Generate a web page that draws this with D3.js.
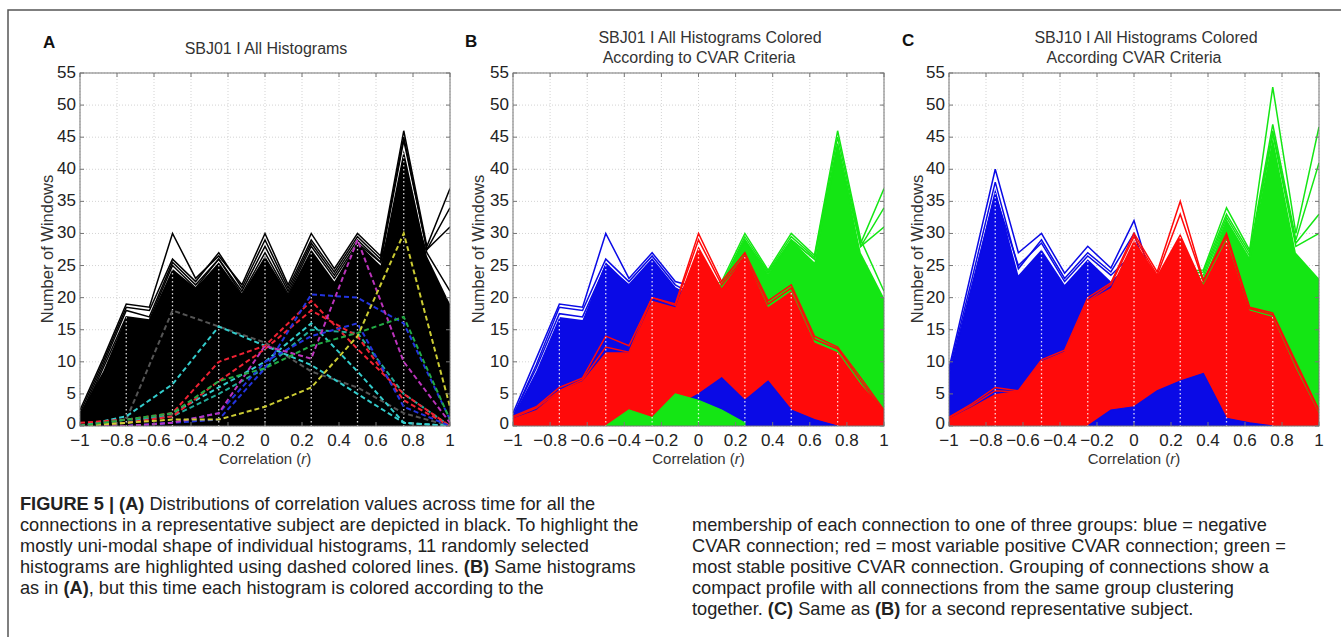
<!DOCTYPE html>
<html><head><meta charset="utf-8">
<script src="https://cdn.jsdelivr.net/npm/d3@7"></script>
<style>
body{margin:0;background:#fff;}
svg{display:block;font-family:"Liberation Sans",Helvetica,Arial,sans-serif;}
</style>
</head><body>
<svg id="c" width="1341" height="637"></svg>
<script>
// ---------- DATA ----------
const binX = [-1,-0.875,-0.75,-0.625,-0.5,-0.375,-0.25,-0.125,0,0.125,0.25,0.375,0.5,0.625,0.75,0.875,1];
const mainX = [-1,-0.75,-0.5,-0.25,0,0.25,0.5,0.75,1];
const xTicks = [-1,-0.8,-0.6,-0.4,-0.2,0,0.2,0.4,0.6,0.8,1];
const yTicks = [0,5,10,15,20,25,30,35,40,45,50,55];
const N = null;

// Panel A (SBJ01, all black)
const aBulk  = [2,8.5,17,16.5,24.5,21.5,25.5,20.5,26.5,20.5,27.5,22.5,28.5,25,43,26.5,19];
const aLines = [
  [2.5,10.5,19,18.5,30,23,26.5,22,30,22,30,24.5,30,26.5,46,28,37],
  [2,10,18.5,18,26,22.5,27,21.5,29,21.5,29,24,29.5,26,45,27.5,34],
  [1.5,9.5,18,17,25.5,22,26,21,28,21,28.5,23.5,29,25.5,44.5,27.5,31],
  [1,9,17,16.5,25,21.5,26,20.5,27,20.5,28,23,28.5,25.5,38,27,21]
];
const aDashColors = ["#555555","#33cccc","#33cccc","#22aa99","#ee2233","#ee2233","#2233dd","#2233dd","#bb33bb","#cccc33","#22aa44"];
const aDashValues = [
  [0,1,18,15.5,13,8.5,6,2,0],
  [0,1.5,6.5,15.5,12.5,9.5,5,0.5,0],
  [0,0.5,2,6,10,16,8.5,0.5,0],
  [0,1,1.5,5,9,15,14.5,5,0],
  [0.5,1,2,10,12.5,19.5,12,5,0],
  [0,0.5,1.5,7,12,18,14,4,0],
  [0,0,0.5,1,9,20.5,20,16,1],
  [0,0,0.5,2,10,14,16,3,0],
  [0,0,0.5,2,12.5,10.5,29,10,0.5],
  [0,0.5,1,1,3,6,14,30,3],
  [0,1,2,7,9,12.5,14.5,17,1]
];

// Panel B (SBJ01 coloured)
const bBlueBulk  = [1.5,8.5,17,16.5,25.5,22,26,21.5,20,8,3,1,0.5,0,0,0,0];
const bBlueLines = [
  [2,10.5,19,18.5,30,23,27,22.5,21.5,10,4,2,1,0,0,0,0],
  [1.5,9.5,18.5,18,26,22.5,26.5,22,20,9,3,1,0.5,0,0,0,0],
  [1.5,9,17.5,17,25,22,26,21.5,19.5,8,3,1,0.5,0,0,0,0]
];
const bRedBulk  = [1.2,2.5,5.5,7,11.5,11.5,19.5,18.5,28,21.5,26.5,18.5,21,13,11.5,6.5,2.5];
const bRedLines = [
  [1.5,3,6,7.5,14,12.5,20,19,30,22.5,27,19.5,22,14,12.3,7.5,2.5],
  [1.3,2.8,5.5,7.2,12.3,11.5,20,18.8,29,22,26.5,19,21.5,13.5,12,7,2.2]
];
const bGreenBulk  = [N,N,N,N,N,N,N,0,20,22,29,23.5,29,25.5,44,27,20];
const bGreenLines = [
  [N,N,N,N,N,N,N,0,21,22.5,30,24.3,30,26.6,46,29,21],
  [N,N,N,N,N,N,N,0,20.5,22,29.5,24,29.5,26.3,45,28.5,37],
  [N,N,N,N,N,N,N,0,20,22,29,23.8,29,26,44,28,34],
  [N,N,N,N,N,N,N,0,20,21.8,29,23.5,29,26,43,28,31]
];
const bBlueLowTop = [N,N,N,N,N,N,N,3,5,7.5,4,7,2.5,1,0,N,N];
const bBlueLowBot = [N,N,N,N,N,N,N,3,1.5,1.8,0,0,0,0,0,N,N];
const bGreenLowTop = [N,N,N,N,0,2.5,1.3,5,4,2.5,0.5,N,N,N,N,N,N];
const bGreenLowBot = [N,N,N,N,0,0,0,0,0,0,0,N,N,N,N,N,N];

// Panel C (SBJ10 coloured)
const cBlueBulk  = [8,22,37,23.5,27.5,22,26,22.5,26,18,10,5,2,0.5,0,0,0];
const cBlueLines = [
  [9,24.5,40,27,30,23.8,28,24.6,32,20,12,6,2,0.5,0,0,0],
  [8.5,23,38,24.5,29,23,27,24,30,19,11,5,2,0.5,0,0,0],
  [8,22,36,25,28.5,22.5,26.5,23.5,27,18,10,5,2,0.5,0,0,0]
];
const cRedBulk  = [1.2,3,5,5.5,10,11.5,19.5,21.5,29,23.5,30,22,29,18,17,9,2];
const cRedLines = [
  [1.4,3.5,6,5.5,10.3,11.8,20,22.3,30,24,35,22.7,30,18.5,17.6,10,2.5],
  [1.3,3.2,5.5,5.3,10,11.5,19.5,22,29.5,23.5,33,22.5,29.5,18.3,17.3,9.5,2.3]
];
const cGreenBulk  = [N,N,N,N,N,N,N,N,0,20,22,22.5,32,26,45,27,23];
const cGreenLines = [
  [N,N,N,N,N,N,N,N,0,21,24,24.3,34,27.4,52.8,30,46.6],
  [N,N,N,N,N,N,N,N,0,20.5,23.5,24,33,27,47,29,41],
  [N,N,N,N,N,N,N,N,0,20,23,23.5,32.5,26.5,46,28.5,33],
  [N,N,N,N,N,N,N,N,0,20,22.5,23,32,26,45.5,28,30]
];
const cBlueLowTop = [N,N,N,N,N,N,0,2.5,3,5.5,7,8.2,1.2,0.5,0,N,N];
const cBlueLowBot = [N,N,N,N,N,N,0,0,0,0,0,0,0,0,0,N,N];

// caption
const capLeft = [
  [["FIGURE 5 | (A)",1],[" Distributions of correlation values across time for all the",0]],
  [["connections in a representative subject are depicted in black. To highlight the",0]],
  [["mostly uni-modal shape of individual histograms, 11 randomly selected",0]],
  [["histograms are highlighted using dashed colored lines. ",0],["(B)",1],[" Same histograms",0]],
  [["as in ",0],["(A)",1],[", but this time each histogram is colored according to the",0]]
];
const capRight = [
  [["membership of each connection to one of three groups: blue = negative",0]],
  [["CVAR connection; red = most variable positive CVAR connection; green =",0]],
  [["most stable positive CVAR connection. Grouping of connections show a",0]],
  [["compact profile with all connections from the same group clustering",0]],
  [["together. ",0],["(C)",1],[" Same as ",0],["(B)",1],[" for a second representative subject.",0]]
];

// ---------- DRAW ----------
const svg = d3.select("#c");
const BLUE="#0a0ae6", RED="#ff0a0a", GREEN="#14e614", BLACK="#000";
const TOP=73, BOT=426;
const y = d3.scaleLinear().domain([0,55]).range([BOT,TOP]);

svg.append("path").attr("d","M8,637V10H1341").attr("fill","none").attr("stroke","#555").attr("stroke-width",1.5);

const panels = [
  {id:"A", left:80, right:450, letter:[43,48], titles:[["SBJ01 I All Histograms",266,54]], ylabX:47,
   layers:[{type:"area",top:aBulk,color:BLACK,clip:true},{type:"lines",data:aLines,color:BLACK}],
   dashed:true},
  {id:"B", left:513, right:884, letter:[465,47], titles:[["SBJ01 I All Histograms Colored",710,43],["According to CVAR Criteria",699,63]], ylabX:478,
   layers:[{type:"area",top:bBlueBulk,color:BLUE,clip:true},{type:"lines",data:bBlueLines,color:BLUE},
           {type:"area",top:bGreenBulk,color:GREEN},{type:"lines",data:bGreenLines,color:GREEN},
           {type:"area",top:bRedBulk,color:RED,clip:true},{type:"lines",data:bRedLines,color:RED},
           {type:"band",top:bBlueLowTop,bot:bBlueLowBot,color:BLUE},
           {type:"band",top:bGreenLowTop,bot:bGreenLowBot,color:GREEN}]},
  {id:"C", left:949, right:1319, letter:[902,46], titles:[["SBJ10 I All Histograms Colored",1146,43],["According CVAR Criteria",1134,63]], ylabX:917,
   layers:[{type:"area",top:cBlueBulk,color:BLUE,clip:true},{type:"lines",data:cBlueLines,color:BLUE},
           {type:"area",top:cGreenBulk,color:GREEN},{type:"lines",data:cGreenLines,color:GREEN},
           {type:"area",top:cRedBulk,color:RED,clip:true},{type:"lines",data:cRedLines,color:RED},
           {type:"band",top:cBlueLowTop,bot:cBlueLowBot,color:BLUE}]}
];

panels.forEach((p,pi)=>{
  const x = d3.scaleLinear().domain([-1,1]).range([p.left,p.right]);
  const g = svg.append("g");
  const defs = svg.append("defs");
  const clipId = "clip"+p.id;
  defs.append("clipPath").attr("id",clipId).append("rect")
    .attr("x",p.left).attr("y",TOP).attr("width",p.right-p.left).attr("height",BOT-TOP);

  // grid
  const grid = g.append("g").attr("stroke","#c8c8c8").attr("stroke-width",0.8).attr("stroke-dasharray","1,2");
  xTicks.forEach(t=>grid.append("line").attr("x1",x(t)).attr("x2",x(t)).attr("y1",TOP).attr("y2",BOT));
  yTicks.forEach(t=>grid.append("line").attr("x1",p.left).attr("x2",p.right).attr("y1",y(t)).attr("y2",y(t)));

  const plot = g.append("g").attr("clip-path",`url(#${clipId})`);
  const area = d3.area().defined(d=>d!=null).x((d,i)=>x(binX[i])).y0(BOT).y1(d=>y(d));
  const line = d3.line().defined(d=>d!=null).x((d,i)=>x(binX[i])).y(d=>y(d));
  const areaClip = "aclip"+p.id;
  const cp = defs.append("clipPath").attr("id",areaClip);

  p.layers.forEach(L=>{
    if(L.type==="area"){
      plot.append("path").attr("d",area(L.top)).attr("fill",L.color);
      if(L.clip) cp.append("path").attr("d",area(L.top));
    } else if(L.type==="lines"){
      L.data.forEach(v=>plot.append("path").attr("d",line(v)).attr("fill","none")
        .attr("stroke",L.color).attr("stroke-width",1.5).attr("stroke-linejoin","miter"));
    } else if(L.type==="band"){
      const band = d3.area().defined(d=>d!=null).x((d,i)=>x(binX[i])).y0((d,i)=>y(L.bot[i])).y1(d=>y(d));
      plot.append("path").attr("d",band(L.top)).attr("fill",L.color).attr("stroke",L.color).attr("stroke-width",1.2);
    }
  });

  // white dotted streaks at bin centres inside dense regions
  const streak = plot.append("g").attr("clip-path",`url(#${areaClip})`)
    .attr("stroke","#fff").attr("stroke-width",1.3).attr("stroke-dasharray","1.5,2.5").attr("stroke-opacity",0.85);
  mainX.slice(1,-1).forEach(t=>streak.append("line").attr("x1",x(t)).attr("x2",x(t)).attr("y1",TOP).attr("y2",BOT));

  if(p.dashed){
    const dl = d3.line().x((d,i)=>x(mainX[i])).y(d=>y(d));
    aDashValues.forEach((v,i)=>plot.append("path").attr("d",dl(v)).attr("fill","none")
      .attr("stroke",aDashColors[i]).attr("stroke-width",2).attr("stroke-dasharray","5,3"));
  }

  // box and ticks
  g.append("rect").attr("x",p.left).attr("y",TOP).attr("width",p.right-p.left).attr("height",BOT-TOP)
    .attr("fill","none").attr("stroke","#777").attr("stroke-width",1);
  const tk = g.append("g").attr("stroke","#777").attr("stroke-width",1);
  xTicks.forEach(t=>{
    tk.append("line").attr("x1",x(t)).attr("x2",x(t)).attr("y1",BOT).attr("y2",BOT-4);
    tk.append("line").attr("x1",x(t)).attr("x2",x(t)).attr("y1",TOP).attr("y2",TOP+4);
  });
  yTicks.forEach(t=>{
    tk.append("line").attr("x1",p.left).attr("x2",p.left+4).attr("y1",y(t)).attr("y2",y(t));
    tk.append("line").attr("x1",p.right).attr("x2",p.right-4).attr("y1",y(t)).attr("y2",y(t));
  });

  const fmt = t => (t<0?"\u2212":"") + String(Math.abs(Math.round(t*10)/10));
  const lab = g.append("g").attr("fill","#222").attr("font-size",17);
  xTicks.forEach(t=>lab.append("text").attr("x",x(t)).attr("y",446).attr("text-anchor","middle").text(fmt(t)));
  yTicks.forEach(t=>lab.append("text").attr("x",p.left-4).attr("y",y(t)+(t===0?3:5)).attr("text-anchor","end").text(t));

  // axis labels
  const xl = g.append("text").attr("x",(p.left+p.right)/2).attr("y",464).attr("text-anchor","middle")
    .attr("fill","#333").attr("font-size",15);
  xl.append("tspan").text("Correlation (");
  xl.append("tspan").attr("font-style","italic").text("r");
  xl.append("tspan").text(")");
  g.append("text").attr("transform",`translate(${p.ylabX+6},249) rotate(-90)`).attr("text-anchor","middle")
    .attr("fill","#333").attr("font-size",16.5).text("Number of Windows");

  // titles
  p.titles.forEach(t=>g.append("text").attr("x",t[1]).attr("y",t[2]).attr("text-anchor","middle")
    .attr("fill","#333").attr("font-size",16).text(t[0]));
  g.append("text").attr("x",p.letter[0]).attr("y",p.letter[1]).attr("font-weight","bold")
    .attr("font-size",17).attr("fill","#111").text(p.id);
});

// caption
function capCol(lines,x0,y0){
  lines.forEach((ln,i)=>{
    const t = svg.append("text").attr("x",x0).attr("y",y0+i*21).attr("font-size",18.2).attr("fill","#222");
    ln.forEach(seg=>t.append("tspan").attr("font-weight",seg[1]?"bold":"normal").text(seg[0]));
  });
}
capCol(capLeft,20,510);
capCol(capRight,692,531);
</script>
</body></html>
